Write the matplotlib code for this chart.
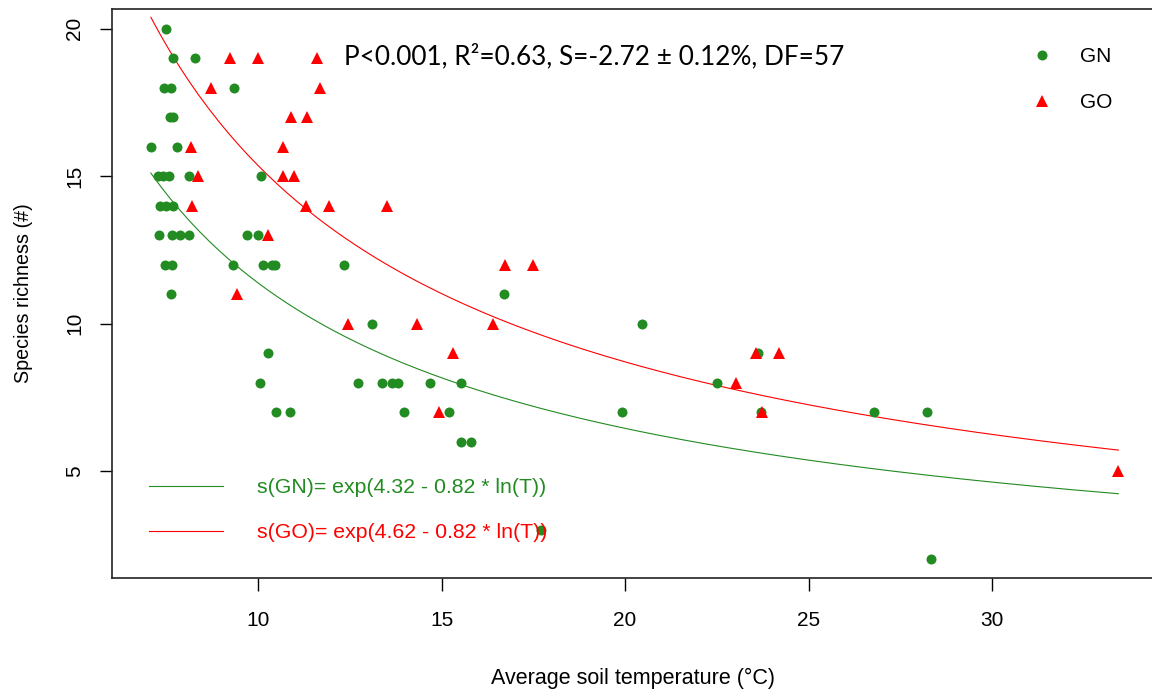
import numpy as np
import matplotlib.pyplot as plt
from matplotlib.lines import Line2D

# GN plots: average soil temperature (°C) and species richness
gn_temp = [7.49,
           7.67, 8.29,
           7.44, 7.62, 9.35,
           7.60, 7.69,
           7.08, 7.80,
           7.28, 7.42, 7.58, 8.13, 10.07,
           7.33, 7.49, 7.69,
           7.30, 7.65, 7.87, 8.12, 9.71, 10.01,
           7.47, 7.65, 9.33, 10.14, 10.37, 10.46, 12.35,
           7.62, 16.70,
           13.11, 20.45,
           10.26, 23.63,
           10.04, 12.72, 13.37, 13.64, 13.82, 14.69, 15.53, 22.50,
           10.49, 10.87, 13.98, 15.19, 19.92, 23.70, 26.78, 28.22,
           15.52, 15.80,
           17.70,
           28.34]
gn_rich = [20,
           19, 19,
           18, 18, 18,
           17, 17,
           16, 16,
           15, 15, 15, 15, 15,
           14, 14, 14,
           13, 13, 13, 13, 13, 13,
           12, 12, 12, 12, 12, 12, 12,
           11, 11,
           10, 10,
           9, 9,
           8, 8, 8, 8, 8, 8, 8, 8,
           7, 7, 7, 7, 7, 7, 7, 7,
           6, 6,
           3,
           2]

# GO plots
go_temp = [9.24, 9.99, 11.62,
           8.71, 11.69,
           10.89, 11.34,
           8.17, 10.67,
           8.37, 10.67, 10.98,
           8.19, 11.31, 11.92, 13.52,
           10.28,
           16.74, 17.49,
           9.42,
           12.44, 14.33, 16.41,
           15.30, 23.57, 24.20,
           23.02,
           14.94, 23.74,
           33.44]
go_rich = [19, 19, 19,
           18, 18,
           17, 17,
           16, 16,
           15, 15, 15,
           14, 14, 14, 14,
           13,
           12, 12,
           11,
           10, 10, 10,
           9, 9, 9,
           8,
           7, 7,
           5]

# fitted power-law models, s = exp(a - b*ln(T))
a_gn, a_go, b_fit = 4.32, 4.62, 0.82
stat_text = "P<0.001, R\u00b2=0.63, S=-2.72 \u00b1 0.12%, DF=57"

green = '#228B22'
red = '#FF0000'

plt.rcParams['font.family'] = ['Liberation Sans', 'DejaVu Sans']

W, H = 1152, 689
fig = plt.figure(figsize=(W / 100, H / 100), dpi=100)
ax = fig.add_axes([0.0972, 0.1611, 0.9054, 0.8258])

ax.plot(gn_temp, gn_rich, 'o', color=green, ms=7.2, mew=0, zorder=3)
ax.plot(go_temp, go_rich, '^', color=red, ms=8.8, mew=0, zorder=3)

all_t = np.array(gn_temp + go_temp)
t = np.linspace(all_t.min(), all_t.max(), 200)
ax.plot(t, np.exp(a_gn - b_fit * np.log(t)), color=green, lw=0.8)
ax.plot(t, np.exp(a_go - b_fit * np.log(t)), color=red, lw=0.8)

ax.set_xlim(6.02, 34.44)
ax.set_ylim(1.37, 20.67)
ax.set_xticks([10, 15, 20, 25, 30])
ax.set_yticks([5, 10, 15, 20])
ax.tick_params(direction='out', length=9, width=1, labelsize=15)
ax.tick_params(axis='x', pad=14.5)
ax.tick_params(axis='y', pad=11, labelrotation=90)
for lbl in ax.get_yticklabels():
    lbl.set_va('center')
for s in ax.spines.values():
    s.set_linewidth(1.2)
    s.set_color('#222222')

ax.set_xlabel('Average soil temperature (\u00b0C)', fontsize=15.5, labelpad=27.5)
ax.set_ylabel('Species richness (#)', fontsize=14.2, labelpad=23)

fig.text(344 / W, 1 - 56 / H, stat_text, fontsize=18.8, family=['Lato', 'DejaVu Sans'],
         va='center', ha='left')

# point legend, top right
pt_handles = [Line2D([], [], ls='', marker='o', color=green, ms=7.2, mew=0),
              Line2D([], [], ls='', marker='^', color=red, ms=8.8, mew=0)]
leg1 = ax.legend(pt_handles, ['GN', 'GO'], loc='upper right', bbox_to_anchor=(0.977, 0.966),
                 frameon=False, fontsize=15, handlelength=1.0, handletextpad=1.3,
                 labelspacing=1.3)
ax.add_artist(leg1)

# fitted curve legend, bottom left
ln_handles = [Line2D([], [], color=green, lw=0.8), Line2D([], [], color=red, lw=0.8)]
leg2 = ax.legend(ln_handles,
                 ['s(GN)= exp(4.32 - 0.82 * ln(T))', 's(GO)= exp(4.62 - 0.82 * ln(T))'],
                 loc='lower left', bbox_to_anchor=(0.017, 0.029), frameon=False,
                 fontsize=15.35, handlelength=3.47, handletextpad=1.6, labelspacing=1.22)
for txt, c in zip(leg2.get_texts(), [green, red]):
    txt.set_color(c)

fig.savefig('out.png', dpi=100)
